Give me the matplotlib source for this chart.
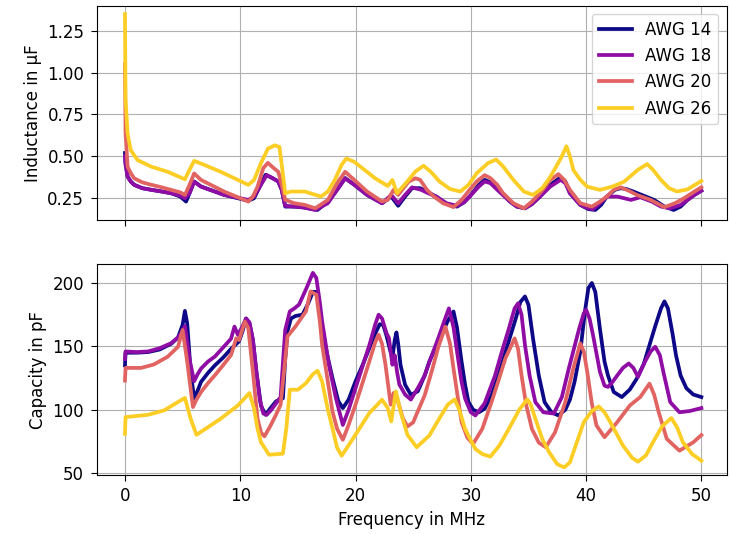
import matplotlib.pyplot as plt
import numpy as np

plt.rcParams['font.size'] = 12
plt.rcParams['xtick.major.size'] = 4.5
plt.rcParams['ytick.major.size'] = 4.5
plt.rcParams['xtick.major.pad'] = 4.5
plt.rcParams['ytick.major.pad'] = 4.5

# ------------------------------------------------------------------
# Inductance (top panel)
# ------------------------------------------------------------------
ind14_f = [0, 0.05, 0.23, 0.5, 0.8, 1.5, 2.3, 3.2, 4.0, 4.8, 5.3, 5.6, 6.0, 6.6, 8.6, 10.7, 11.2,
           11.7, 12.2, 12.8, 13.3, 13.6, 13.9, 14.7, 15.5, 16.7, 17.6, 18.4, 19.1, 19.9, 21.0,
           22.3, 23.1, 23.7, 24.3, 24.9, 25.6, 26.3, 27.0, 27.9, 28.8, 29.4, 29.9, 30.7, 31.2,
           31.7, 32.3, 33.4, 34.0, 34.7, 35.3, 36.0, 36.9, 37.8, 38.2, 38.6, 39.5, 40.2, 40.8,
           41.3, 41.8, 42.5, 43.0, 43.5, 44.1, 45.0, 45.9, 46.8, 47.6, 48.2, 48.8, 49.4, 50]
ind14 = [0.52, 0.46, 0.38, 0.35, 0.33, 0.31, 0.30, 0.29, 0.28, 0.26, 0.23, 0.28, 0.35, 0.32,
         0.27, 0.235, 0.25, 0.32, 0.39, 0.37, 0.35, 0.30, 0.20, 0.20, 0.195, 0.18, 0.23, 0.30,
         0.37, 0.33, 0.27, 0.22, 0.26, 0.205, 0.26, 0.31, 0.31, 0.285, 0.26, 0.216, 0.20, 0.225,
         0.26, 0.33, 0.36, 0.345, 0.31, 0.23, 0.20, 0.19, 0.215, 0.26, 0.33, 0.375, 0.35, 0.28,
         0.21, 0.185, 0.18, 0.21, 0.26, 0.30, 0.31, 0.305, 0.29, 0.265, 0.24, 0.20, 0.18, 0.20,
         0.24, 0.27, 0.295]

ind18_f = [0, 0.05, 0.23, 0.5, 0.8, 1.5, 2.3, 3.2, 4.0, 4.8, 5.2, 5.6, 6.0, 6.6, 8.6, 10.7, 11.2,
           11.7, 12.3, 12.8, 13.3, 13.6, 13.9, 14.7, 15.5, 16.5, 17.6, 18.4, 19.1, 19.9, 21.0,
           22.3, 23.1, 23.7, 24.3, 24.9, 25.7, 26.3, 27.0, 27.9, 28.8, 29.4, 29.9, 30.7, 31.2,
           31.7, 32.3, 33.4, 34.0, 34.7, 35.3, 36.0, 36.9, 37.8, 38.2, 38.6, 39.5, 40.2, 40.6,
           41.2, 41.8, 42.7, 43.3, 43.9, 44.7, 45.7, 46.5, 47.3, 48.2, 48.8, 49.4, 50]
ind18 = [0.50, 0.45, 0.378, 0.35, 0.33, 0.31, 0.30, 0.29, 0.28, 0.265, 0.25, 0.28, 0.349, 0.319,
         0.27, 0.24, 0.26, 0.32, 0.388, 0.37, 0.349, 0.30, 0.205, 0.20, 0.195, 0.18, 0.22, 0.30,
         0.369, 0.33, 0.27, 0.22, 0.27, 0.22, 0.27, 0.315, 0.30, 0.28, 0.26, 0.22, 0.205, 0.225,
         0.26, 0.32, 0.35, 0.34, 0.30, 0.23, 0.20, 0.19, 0.215, 0.26, 0.32, 0.36, 0.34, 0.28,
         0.21, 0.19, 0.185, 0.22, 0.26, 0.26, 0.25, 0.24, 0.256, 0.23, 0.20, 0.19, 0.21, 0.24,
         0.27, 0.295]

ind20_f = [0, 0.05, 0.23, 0.5, 0.8, 1.5, 2.3, 3.2, 4.0, 4.8, 5.2, 5.6, 6.0, 6.6, 8.6, 10.7, 11.1,
           11.5, 12.0, 12.4, 12.9, 13.3, 13.6, 13.9, 14.7, 15.6, 16.5, 17.6, 18.4, 19.1, 19.9,
           21.0, 22.3, 22.8, 23.3, 23.7, 24.6, 25.2, 25.6, 26.2, 26.8, 27.6, 28.5, 29.2, 29.9,
           30.5, 31.2, 31.7, 32.3, 32.8, 33.7, 34.6, 35.3, 36.0, 36.9, 37.6, 38.1, 38.6, 39.5,
           40.5, 41.2, 41.8, 42.4, 43.0, 43.7, 44.4, 45.6, 46.8, 47.7, 48.5, 49.4, 50]
ind20 = [1.05, 0.64, 0.438, 0.40, 0.369, 0.345, 0.33, 0.315, 0.30, 0.285, 0.27, 0.33, 0.398,
         0.359, 0.29, 0.23, 0.26, 0.319, 0.43, 0.461, 0.43, 0.408, 0.33, 0.24, 0.22, 0.21, 0.19,
         0.24, 0.34, 0.408, 0.359, 0.29, 0.23, 0.24, 0.30, 0.27, 0.349, 0.369, 0.36, 0.30, 0.26,
         0.22, 0.197, 0.24, 0.30, 0.349, 0.388, 0.37, 0.33, 0.28, 0.22, 0.19, 0.23, 0.28, 0.359,
         0.394, 0.36, 0.30, 0.22, 0.20, 0.23, 0.26, 0.30, 0.315, 0.295, 0.27, 0.24, 0.197, 0.22,
         0.25, 0.29, 0.315]

ind26_f = [0, 0.05, 0.23, 0.5, 1.1, 2.3, 3.7, 5.2, 5.6, 6.0, 6.6, 8.3, 10.7, 11.2, 11.8, 12.4,
           13.0, 13.4, 13.6, 13.9, 14.4, 15.6, 17.0, 17.6, 18.2, 18.8, 19.2, 19.9, 21.7, 22.8,
           23.2, 23.6, 24.6, 25.2, 25.9, 26.5, 27.3, 28.2, 29.1, 29.8, 30.5, 31.5, 32.2, 32.8,
           33.7, 34.6, 35.4, 36.2, 36.9, 37.8, 38.3, 38.6, 38.9, 39.5, 40.1, 41.2, 42.3, 43.3,
           44.5, 45.3, 45.8, 46.5, 47.2, 47.9, 48.8, 50]
ind26 = [1.349, 0.84, 0.635, 0.537, 0.477, 0.438, 0.408, 0.363, 0.42, 0.473, 0.457, 0.408, 0.33,
         0.359, 0.46, 0.546, 0.566, 0.556, 0.45, 0.28, 0.29, 0.29, 0.26, 0.29, 0.359, 0.45, 0.487,
         0.467, 0.369, 0.323, 0.359, 0.28, 0.359, 0.41, 0.444, 0.41, 0.349, 0.305, 0.29, 0.33,
         0.398, 0.46, 0.481, 0.44, 0.359, 0.29, 0.27, 0.31, 0.378, 0.487, 0.56, 0.50, 0.418,
         0.36, 0.319, 0.30, 0.32, 0.349, 0.42, 0.454, 0.42, 0.359, 0.31, 0.29, 0.303, 0.353]

# ------------------------------------------------------------------
# Capacity (bottom panel)
# ------------------------------------------------------------------
cap14_f = [0, 0.05, 1.0, 2.0, 3.0, 4.0, 4.6, 5.0, 5.2, 5.4, 5.7, 6.0, 6.3, 6.6, 7.2, 7.8, 8.5,
           9.2, 9.9, 10.2, 10.5, 10.8, 11.1, 11.4, 11.8, 12.2, 12.6, 13.1, 13.7, 13.9, 14.1,
           14.4, 14.8, 15.4, 15.9, 16.3, 16.6, 16.8, 17.1, 17.5, 18.0, 18.5, 18.9, 19.4, 20.0,
           20.6, 21.2, 21.7, 22.1, 22.4, 22.7, 23.0, 23.2, 23.4, 23.55, 23.7, 23.9, 24.3, 24.8,
           25.4, 26.0, 26.4, 27.0, 27.5, 28.0, 28.5, 28.8, 29.2, 29.5, 29.8, 30.2, 30.7, 31.2,
           31.8, 32.4, 33.1, 33.9, 34.3, 34.7, 35.0, 35.4, 35.9, 36.4, 37.0, 37.6, 38.2, 38.6,
           39.0, 39.5, 39.9, 40.2, 40.5, 40.8, 41.2, 41.6, 41.9, 42.4, 43.1, 43.8, 44.4, 45.0,
           45.5, 46.0, 46.5, 46.8, 47.1, 47.5, 47.8, 48.2, 48.7, 49.3, 50]
cap14 = [135, 145, 145, 145.5, 147.5, 152, 157, 167, 178, 168, 130, 109, 115, 122, 129, 135,
         141, 148, 154, 162, 172, 168, 155, 130, 103, 96, 101, 106.6, 109, 140, 162, 172, 174,
         175, 184, 193, 193, 185, 164.5, 145, 125, 107, 101.3, 108, 122.4, 135, 148.7, 160,
         167.5, 167, 158, 147, 141, 155, 161, 152, 135.5, 119.7, 111.8, 114.5, 127, 138, 150,
         160, 170, 177.5, 165, 138, 120, 106, 100, 98, 100.8, 111.4, 127, 148.4, 172, 185,
         189.4, 182.8, 156, 127, 106, 98, 95.5, 100, 108, 122, 146, 177.5, 196, 200, 193, 164,
         138, 127, 114, 110, 116, 124.6, 136, 151, 166, 180, 185.5, 180, 160, 143, 127, 117,
         112, 110]

cap18_f = [0, 0.05, 1.0, 2.0, 3.0, 4.0, 4.6, 5.0, 5.2, 5.6, 6.0, 6.3, 6.6, 7.2, 7.8, 8.5, 9.2,
           9.5, 9.8, 10.2, 10.5, 10.8, 11.1, 11.4, 11.7, 12.0, 12.3, 12.7, 13.1, 13.5, 13.9,
           14.3, 14.7, 15.1, 15.7, 16.3, 16.6, 16.9, 17.1, 17.7, 18.3, 18.9, 19.4, 20.0, 20.6,
           21.2, 21.7, 22.0, 22.3, 22.7, 22.9, 23.2, 23.4, 23.6, 23.8, 24.3, 24.8, 25.4, 26.0,
           26.5, 27.2, 27.7, 28.1, 28.5, 28.9, 29.2, 29.5, 30.0, 30.4, 31.2, 32.1, 32.7, 33.3,
           33.8, 34.1, 34.4, 34.7, 35.1, 35.6, 36.3, 37.2, 37.9, 38.5, 39.0, 39.4, 39.8, 40.0,
           40.3, 40.6, 41.2, 41.6, 41.9, 42.3, 42.7, 43.2, 43.7, 44.1, 44.5, 45.1, 45.6, 46.0,
           46.4, 46.7, 47.3, 48.1, 49.0, 50]
cap18 = [140, 146, 145.5, 146, 148.5, 152.5, 157, 162, 166, 140, 122.5, 128, 132.5, 138, 142,
         149, 156, 165.6, 159, 166, 172, 169, 155, 130, 108, 97, 96, 100, 105, 110, 163, 177.6,
         180, 183, 195, 208, 204, 185, 170, 135, 109, 88, 100, 117, 134, 151, 167, 175, 172,
         160, 156.6, 135.5, 143, 130, 120, 112, 108, 117, 127, 140, 157, 170, 180, 165, 140,
         122, 109, 98, 95.5, 105, 127, 146, 164, 180, 184, 175, 151, 127, 106, 98, 97, 110,
         132.5, 150, 164, 176, 179, 172, 159, 130, 119, 118, 122, 127, 133, 136.5, 133, 126,
         137.8, 146, 149.7, 143, 130, 106, 98, 99, 101.3]

cap20_f = [0, 0.05, 1.4, 2.5, 3.7, 4.6, 5.0, 5.4, 5.9, 6.2, 6.6, 7.2, 7.8, 8.5, 9.2, 9.65, 9.9,
           10.4, 10.7, 11.1, 11.5, 11.8, 12.1, 12.6, 13.1, 13.5, 13.8, 14.1, 14.8, 15.7, 16.1,
           16.6, 16.9, 17.1, 17.5, 18.0, 18.4, 18.9, 19.4, 20.0, 20.6, 21.2, 21.7, 22.0, 22.3,
           22.6, 23.05, 23.3, 23.6, 24.1, 24.5, 25.0, 25.4, 26.0, 26.6, 27.2, 27.8, 28.2, 28.5,
           28.9, 29.2, 29.7, 30.2, 31.0, 31.8, 32.4, 33.0, 33.8, 34.1, 34.4, 34.8, 35.3, 35.9,
           36.5, 37.3, 38.2, 38.9, 39.5, 39.8, 40.1, 40.5, 40.9, 41.6, 42.7, 43.8, 44.7, 45.5,
           45.9, 46.3, 47.0, 48.1, 49.3, 50]
cap20 = [123, 133, 133, 135.7, 141.8, 149.7, 163, 137.8, 102.1, 108, 114, 121, 127.2, 135,
         143.1, 156.3, 155, 169.6, 164.3, 129.9, 92.9, 82, 79, 87, 96, 104, 130, 157.9, 165.8,
         177.6, 193.4, 190.8, 170, 151.3, 128, 98.7, 85, 76.3, 88, 104, 121, 138.2, 153, 159.2,
         152, 135.5, 104, 113.2, 109.2, 93.4, 86.8, 90, 98.7, 111.4, 130, 150, 165.6, 152,
         132.5, 108, 90.2, 78, 73, 85, 106.1, 123, 140.5, 156.3, 148, 127.2, 104, 84.9, 74,
         70.4, 82, 106.1, 133, 152.4, 146, 129.9, 105, 87.6, 78.3, 90.2, 103.4, 110, 120.6, 112,
         98.1, 77, 67.7, 74.3, 80]

cap26_f = [0, 0.05, 2.0, 3.4, 4.6, 5.2, 5.7, 6.2, 7.2, 8.3, 9.8, 10.8, 11.2, 11.5, 11.8, 12.5,
           13.7, 14.0, 14.3, 15.0, 15.7, 16.3, 16.7, 17.1, 17.6, 18.0, 18.4, 18.8, 20.0, 21.2,
           22.0, 22.3, 22.8, 23.1, 23.5, 23.9, 24.5, 25.3, 26.4, 27.2, 28.0, 28.6, 29.0, 29.5,
           30.4, 31.0, 31.7, 32.5, 33.3, 34.2, 34.9, 35.2, 35.6, 36.2, 36.8, 37.5, 38.1, 38.6,
           39.1, 39.8, 40.5, 41.1, 41.6, 42.1, 43.2, 44.0, 44.5, 45.2, 45.8, 46.6, 47.4, 47.9,
           48.4, 49.2, 50]
cap26 = [81, 94.2, 96, 99.5, 106.1, 109.3, 92.9, 80.2, 86.2, 92.9, 103.4, 113.2, 100.8, 85,
         74.3, 64.5, 65.3, 85.5, 115.8, 115.8, 121, 128, 130.8, 122.4, 100, 85.5, 70, 63.7, 80.3,
         97.4, 105, 107.9, 101.3, 90.8, 114.5, 98.7, 80.3, 70.4, 79.6, 92, 104, 108.2, 100, 84.9,
         69, 65, 63, 72, 84.9, 100, 108.2, 104, 92.9, 77, 66.4, 57, 54.5, 58.5, 71.7, 90.2, 99,
         102.6, 98, 90.2, 71.7, 62, 59, 64, 74.3, 87, 93.4, 86, 74.3, 65, 59.8]

labels = ['AWG 14', 'AWG 18', 'AWG 20', 'AWG 26']
colors = plt.cm.plasma(np.linspace(0, 0.9, 4))

ind = [(ind14_f, ind14), (ind18_f, ind18), (ind20_f, ind20), (ind26_f, ind26)]
cap = [(cap14_f, cap14), (cap18_f, cap18), (cap20_f, cap20), (cap26_f, cap26)]

fig = plt.figure(figsize=(7.3, 5.34), dpi=100)
ax1 = fig.add_axes([0.1325, 0.588, 0.863, 0.4015])
ax2 = fig.add_axes([0.1325, 0.1105, 0.863, 0.3951], sharex=ax1)

for (f, v), c, lab in zip(ind, colors, labels):
    ax1.plot(f, v, color=c, lw=2.7, label=lab)
for (f, v), c in zip(cap, colors):
    ax2.plot(f, v, color=c, lw=2.7)

ax1.set_ylabel('Inductance in µF')
ax1.set_ylim(0.12, 1.40)
ax1.set_yticks([0.25, 0.5, 0.75, 1.0, 1.25])
ax1.legend(loc='upper right')
ax1.grid(True)
ax1.tick_params(labelbottom=False)

ax2.set_xlim(-2.45, 52.2)
ax2.set_ylim(48.5, 215)
ax2.set_yticks([50, 100, 150, 200])
ax2.set_xlabel('Frequency in MHz')
ax2.set_ylabel('Capacity in pF')
ax2.grid(True)

plt.savefig('out.png', dpi=100, facecolor='white')
